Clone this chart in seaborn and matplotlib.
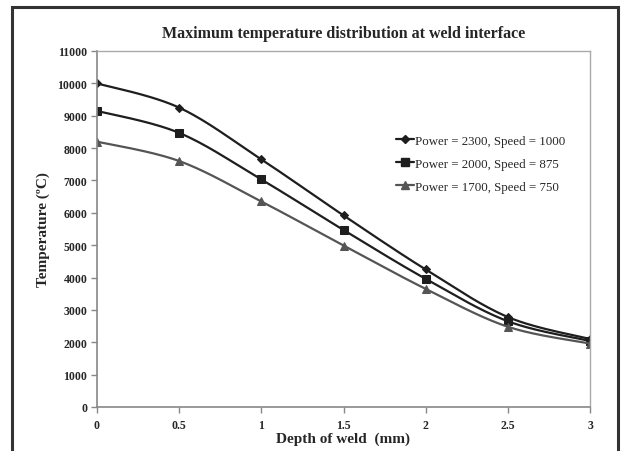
import numpy as np
import pandas as pd
import matplotlib
matplotlib.use("Agg")
import matplotlib.pyplot as plt
import seaborn as sns
from matplotlib.patches import Rectangle

depth = [0, 0.5, 1, 1.5, 2, 2.5, 3]
s1 = [10000, 9250, 7650, 5920, 4250, 2780, 2100]
s2 = [9150, 8470, 7030, 5470, 3960, 2650, 2040]
s3 = [8200, 7600, 6350, 4990, 3650, 2480, 1960]
labels = ["Power = 2300, Speed = 1000", "Power = 2000, Speed = 875", "Power = 1700, Speed = 750"]
yticks = list(range(0, 11001, 1000))
xticks = [0, 0.5, 1, 1.5, 2, 2.5, 3]
xtick_labels = ["0", "0.5", "1", "1.5", "2", "2.5", "3"]


def smooth(x, y, n=30):
    # Catmull-Rom style smoothing (like Excel's smoothed line)
    x = np.asarray(x, float); y = np.asarray(y, float)
    px = np.concatenate([[x[0]], x, [x[-1]]])
    py = np.concatenate([[y[0]], y, [y[-1]]])
    xs, ys = [], []
    for i in range(1, len(px) - 2):
        p0, p1, p2, p3 = [np.array([px[j], py[j]]) for j in (i - 1, i, i + 1, i + 2)]
        c1 = p1 + (p2 - p0) / 6.0
        c2 = p2 - (p3 - p1) / 6.0
        t = np.linspace(0, 1, n)[:, None]
        b = ((1 - t) ** 3) * p1 + 3 * ((1 - t) ** 2) * t * c1 + 3 * (1 - t) * t ** 2 * c2 + t ** 3 * p2
        xs.append(b[:, 0]); ys.append(b[:, 1])
    return np.concatenate(xs), np.concatenate(ys)


sns.set_style("white")
plt.rcParams["font.family"] = ["Liberation Serif", "DejaVu Serif"]

fig = plt.figure(figsize=(6.3, 4.52), dpi=100)
ax = fig.add_axes([97 / 630, 1 - 408 / 452, (590 - 97) / 630, (408 - 52) / 452])

colors = ["#1e1e1e", "#1e1e1e", "#555555"]
markers = ["D", "s", "^"]
msizes = [4, 6, 6]
for y, lab, c, m, ms in zip([s1, s2, s3], labels, colors, markers, msizes):
    sx, sy = smooth(depth, y)
    sns.lineplot(x=sx, y=sy, ax=ax, color=c, lw=1.6, sort=False, estimator=None)
    sns.lineplot(x=depth, y=y, ax=ax, color=c, lw=0, marker=m, markersize=ms,
                 markeredgecolor=c, markerfacecolor=c)
    ax.plot([], [], color=c, lw=1.6, marker=m, markersize=ms, label=lab)

ax.set_xlim(0, 3)
ax.set_ylim(0, 11000)
ax.set_xticks(xticks)
ax.set_xticklabels(xtick_labels)
ax.set_yticks(yticks)
for lbl in ax.get_xticklabels() + ax.get_yticklabels():
    lbl.set_fontweight("bold")
    lbl.set_fontsize(8.5)
ax.tick_params(axis="both", direction="out", length=4, width=1, color="#888888",
               bottom=True, left=True, pad=3)
ax.tick_params(axis="x", pad=5)
for side in ["left", "bottom"]:
    ax.spines[side].set_color("#888888")
    ax.spines[side].set_linewidth(1.2)
for side in ["top", "right"]:
    ax.spines[side].set_color("#aaaaaa")
    ax.spines[side].set_linewidth(1.0)

ax.set_title("Maximum temperature distribution at weld interface", fontsize=11.5,
             fontweight="bold", pad=10)
ax.set_xlabel("Depth of weld  (mm)", fontsize=11, fontweight="bold", labelpad=0)
ax.set_ylabel("Temperature (ºC)", fontsize=11, fontweight="bold", labelpad=5)

leg = ax.legend(loc="upper left", bbox_to_anchor=(0.583, 0.797), frameon=False,
                fontsize=9.3, handlelength=1.4, handletextpad=0.1, labelspacing=0.85)

fig.patches.append(Rectangle((12 / 630, -0.02), 606 / 630, 1 - 8 / 452 + 0.02,
                             transform=fig.transFigure, fill=False,
                             edgecolor="#333333", lw=2.2))

fig.savefig("out.png", dpi=100)
